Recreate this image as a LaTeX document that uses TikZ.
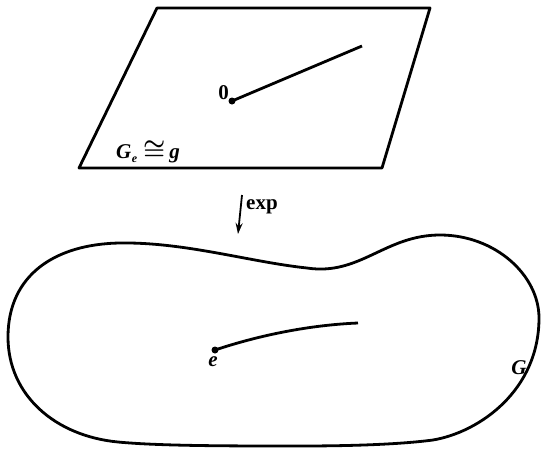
\documentclass[tikz,border=0pt]{standalone}
\usepackage{fontspec}
\setmainfont{Liberation Serif}
\usetikzlibrary{arrows.meta}
\begin{document}
\begin{tikzpicture}[x=1pt,y=-1pt,
  curve/.style={line width=2.8pt,line join=round},
  lbl/.style={font=\fontsize{21}{23}\selectfont\bfseries,inner sep=0pt},
  dotpt/.style={circle,fill=black,inner sep=0pt,minimum size=7pt}]
\path[use as bounding box] (0,0) rectangle (541,448);
% parallelogram (Lie algebra)
\coordinate (p1) at (157,8);
\coordinate (p2) at (430,8);
\coordinate (p3) at (382,168);
\coordinate (p4) at (79,168);
\draw[curve] (p1) -- (p2) -- (p3) -- (p4) -- cycle;
\node[dotpt] (o) at (232,101) {};
\coordinate (oend) at (362,46);
\draw[curve] (o.center) -- (oend);
\node[lbl,anchor=east] (zero) at (229,93) {0};
\node[lbl,anchor=west] (ge) at (116,152) {\itshape G\kern0.5pt\raisebox{-0.35ex}{\fontsize{12}{12}\selectfont e}\hspace{6pt}{\fontsize{24}{24}\selectfont\boldmath$\cong$}\hspace{4pt}g};
% exp arrow
\coordinate (a1) at (242,195);
\coordinate (a2) at (238,234);
\draw[line width=1.8pt,-{Stealth[length=11pt,width=7pt]}] (a1) -- (a2);
\node[lbl,anchor=west] (exp) at (246,207) {exp};
% group blob
\coordinate (b1) at (8,337);
\coordinate (b2) at (120,243);
\coordinate (b3) at (307,268);
\coordinate (b4) at (440,235);
\coordinate (b5) at (539,318);
\coordinate (b6) at (433,440);
\coordinate (b7) at (300,446);
\coordinate (b8) at (118,442);
\draw[curve] (b1) .. controls (8,275) and (55,244) .. (b2)
  .. controls (185,242) and (250,262) .. (b3)
  .. controls (360,276) and (385,235) .. (b4)
  .. controls (495,235) and (539,275) .. (b5)
  .. controls (539,390) and (480,432) .. (b6)
  .. controls (395,445) and (340,446) .. (b7)
  .. controls (230,446) and (160,446) .. (b8)
  .. controls (55,436) and (8,395) .. cycle;
\node[dotpt] (e) at (215,350) {};
\coordinate (eend) at (358,323);
\draw[curve] (e.center) .. controls (260,335) and (310,325) .. (eend);
\node[lbl,anchor=north] (elbl) at (213,356) {\itshape e};
\node[lbl] (glbl) at (519,368) {\itshape G};
\end{tikzpicture}
\end{document}
